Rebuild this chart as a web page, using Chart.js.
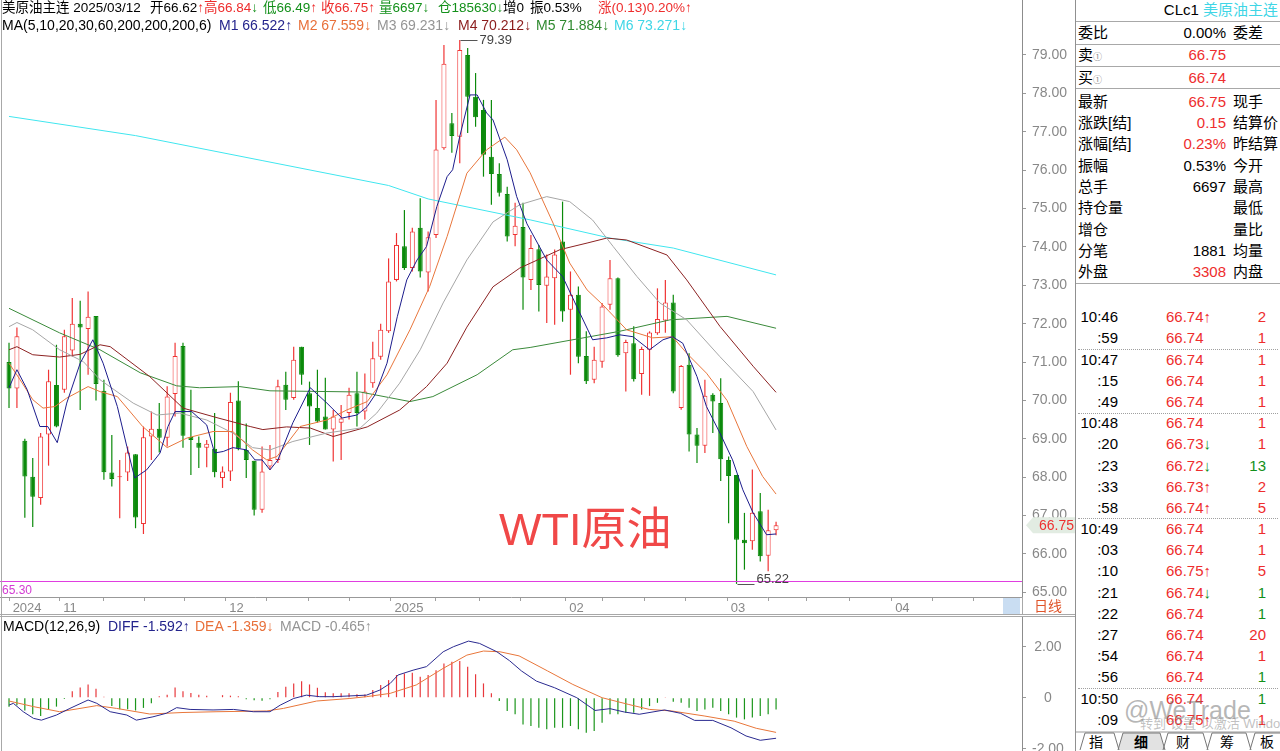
<!DOCTYPE html>
<html>
<head>
<meta charset="utf-8">
<title>美原油主连 日线</title>
<script src="https://cdn.jsdelivr.net/npm/chart.js@4.4.1/dist/chart.umd.min.js"></script>
<style>
  body { margin:0; width:1280px; height:751px; overflow:hidden; background:#fff; position:relative;
         font-family:"Liberation Sans", Arial, "Noto Sans CJK SC", sans-serif; color:#000; }
  .t { position:absolute; white-space:nowrap; line-height:16px; }
  .hd { font-size:14px; }
  .h1 { font-size:13.5px; }
  .r { color:#ee2d2d; } .g { color:#13901a; } .k { color:#000; }
  .c1 { color:#24248c; } .c2 { color:#e8703a; } .c3 { color:#959595; }
  .c4 { color:#8b1c1c; } .c5 { color:#2f8a2f; } .c6 { color:#3fd6e6; }
  .ln { position:absolute; background:#a8a8a8; }
  #mainBox { position:absolute; left:0; top:0; width:1075px; height:615px; }
  #macdBox { position:absolute; left:0; top:617px; width:1075px; height:134px; }
  .pv { font-size:15px; }
  .dot { position:absolute; left:1078px; width:200px; height:0; border-top:1px dotted #a0a0a0; }
</style>
</head>
<body>
<div id="mainBox"><canvas id="kChart"></canvas></div>
<div id="macdBox"><canvas id="macdChart"></canvas></div>

<!-- frame lines -->
<div class="ln" style="left:1px;top:0;width:1px;height:751px;"></div>
<div class="ln" style="left:0;top:614px;width:1075px;height:1px;"></div>
<div class="ln" style="left:0;top:616px;width:1075px;height:1px;"></div>
<div class="ln" style="left:1022px;top:597px;width:1px;height:18px;"></div>
<div class="ln" style="left:1075px;top:0;width:1px;height:751px;background:#909090;"></div>
<div style="position:absolute;left:1003px;top:598px;width:17px;height:16px;background:#c9ddf2;"></div>
<div class="t" style="left:1034px;top:598px;font-size:14px;color:#e0552a;">日线</div>

<!-- header -->
<div class="t h1" style="left:2px;top:0;">美原油主连 2025/03/12</div>
<div class="t h1" style="left:150px;top:0;">开66.62<span class="r">↑</span></div>
<div class="t h1 r" style="left:204px;top:0;">高66.84<span class="g">↓</span></div>
<div class="t h1 g" style="left:263px;top:0;">低66.49<span class="r">↑</span></div>
<div class="t h1 r" style="left:321px;top:0;">收66.75↑</div>
<div class="t h1 g" style="left:379px;top:0;">量6697↓</div>
<div class="t h1 g" style="left:438px;top:0;">仓185630↓</div>
<div class="t h1" style="left:503px;top:0;">增0</div>
<div class="t h1" style="left:530px;top:0;">振0.53%</div>
<div class="t h1 r" style="left:598px;top:0;">涨(0.13)0.20%↑</div>
<div class="t hd" style="left:2px;top:17px;">MA(5,10,20,30,60,200,200,200,6)</div>
<div class="t hd c1" style="left:219px;top:17px;">M1 66.522↑</div>
<div class="t hd c2" style="left:298px;top:17px;">M2 67.559↓</div>
<div class="t hd c3" style="left:377px;top:17px;">M3 69.231↓</div>
<div class="t hd c4" style="left:458px;top:17px;">M4 70.212↓</div>
<div class="t hd c5" style="left:536px;top:17px;">M5 71.884↓</div>
<div class="t hd c6" style="left:614px;top:17px;">M6 73.271↓</div>

<div class="t" style="left:499px;top:507px;font-size:45px;line-height:45px;color:#f04848;">WTI原油</div>

<!-- MACD title -->
<div class="t hd" style="left:3px;top:618px;">MACD(12,26,9)</div>
<div class="t hd c1" style="left:108px;top:618px;">DIFF -1.592↑</div>
<div class="t hd c2" style="left:195px;top:618px;">DEA -1.359↓</div>
<div class="t hd c3" style="left:280px;top:618px;">MACD -0.465↑</div>

<!-- right panel -->
<div class="t pv" style="right:2px;top:2px;">CLc1 <span class="c6">美原油主连</span></div>
<div class="ln" style="left:1076px;top:21px;width:204px;height:1px;"></div>
<div class="ln" style="left:1076px;top:44px;width:204px;height:1px;"></div>
<div class="ln" style="left:1076px;top:66px;width:204px;height:1px;"></div>
<div class="ln" style="left:1076px;top:88px;width:204px;height:1px;"></div>
<div class="ln" style="left:1076px;top:283px;width:204px;height:1px;"></div>
<svg style="position:absolute;left:1076px;top:731px;" width="204" height="20">
  <path d="M42,19 L47,2 L84,2 L89,19 Z" fill="#e2e2e2" stroke="none"/>
  <path d="M0,1 L204,1" stroke="#999" stroke-width="1"/>
  <path d="M4,19 L9,2 L38,2 L43,19 M42,19 L47,2 L84,2 L89,19 M87,19 L92,2 L127,2 L132,19 M131,19 L136,2 L170,2 L175,19 M174,19 L179,2 L204,2" fill="none" stroke="#777" stroke-width="1"/>
</svg>
<div id="panelRows"></div>
<div class="t" style="left:1124px;top:696px;font-size:25px;line-height:28px;color:rgba(110,110,110,0.5);">@WeTrade</div>
<div class="t" style="left:1140px;top:716px;font-size:13px;color:rgba(140,140,140,0.55);">转到“设置”以激活 Windows</div>

<script>
// ---- daily candles, CLc1, 2024-10-24 .. 2025-03-12 ----
const opens  = [71.00,70.31,68.95,68.01,67.46,69.11,70.40,70.28,71.30,72.00,71.86,72.20,70.25,68.12,68.00,68.12,68.60,66.78,69.06,69.26,
                69.03,70.17,71.42,69.05,68.90,68.77,68.74,67.98,68.15,70.00,68.71,68.43,67.15,68.28,68.45,70.41,70.06,71.40,70.19,69.80,
                69.58,69.24,69.42,69.67,70.19,69.71,70.45,71.14,71.80,73.14,74.02,73.45,74.50,73.33,74.31,76.57,77.22,76.87,79.00,77.91,
                77.57,76.35,75.90,75.38,74.31,74.52,73.14,73.94,72.99,73.18,74.14,72.36,72.75,71.16,70.54,71.01,72.49,73.18,71.23,71.49,
                70.69,71.32,71.75,72.08,72.55,69.80,70.93,69.11,68.82,70.15,69.93,68.45,68.06,66.37,66.33,67.11,65.95,66.62];
const highs  = [71.50,71.90,69.00,68.50,69.15,70.80,71.45,71.84,72.67,72.60,72.84,72.20,70.54,69.10,68.45,68.80,68.60,69.32,69.71,69.93,
                70.37,71.50,71.50,70.28,69.06,68.97,69.67,68.28,70.20,70.50,69.40,68.43,68.80,68.84,70.54,70.75,71.40,71.40,70.49,70.80,
                70.59,69.75,69.88,70.33,70.75,70.70,71.53,72.00,73.70,74.36,74.96,74.50,75.27,74.40,77.83,79.26,77.49,79.39,79.18,78.53,
                77.83,77.83,76.18,75.57,75.15,75.15,74.31,74.05,73.80,73.93,75.18,73.36,72.97,71.80,71.40,72.54,73.66,73.20,71.58,71.93,
                71.40,71.80,72.92,73.14,72.75,70.92,71.23,69.28,70.54,70.19,70.58,68.54,68.06,67.07,68.20,67.59,67.15,66.84];
const lows   = [69.80,69.80,66.94,66.70,67.28,68.30,69.30,70.20,71.14,69.75,70.67,70.00,67.93,67.76,66.93,67.90,66.67,66.52,68.45,68.64,
                68.80,69.58,68.77,68.06,68.24,68.26,68.00,67.72,67.90,68.70,67.98,67.00,67.07,68.19,68.37,69.75,70.02,70.41,68.84,69.42,
                69.24,68.41,68.45,69.50,69.32,69.50,70.33,71.06,71.76,73.10,73.40,73.36,73.20,72.84,74.23,76.53,76.45,76.18,76.97,77.13,
                75.83,75.10,75.31,74.14,74.02,72.36,72.88,72.32,72.02,71.97,72.05,70.67,70.97,70.43,70.45,70.85,72.36,71.14,70.23,70.49,
                70.15,70.12,71.71,71.76,70.19,69.76,68.67,68.37,68.63,69.15,67.90,66.80,65.22,65.59,66.11,65.80,65.55,66.49];
const closes = [70.31,71.67,68.02,67.49,69.06,70.50,69.32,71.67,72.00,71.90,72.18,70.43,68.13,67.95,68.02,68.64,66.95,69.04,69.26,69.03,
                70.10,71.16,69.08,68.97,68.77,68.87,68.13,68.15,69.96,68.74,68.45,67.15,68.15,68.45,70.37,70.02,71.06,70.67,69.84,69.45,
                69.24,69.58,69.53,70.15,69.67,70.23,71.10,71.84,73.10,74.05,73.45,74.40,73.36,74.25,76.54,78.77,76.89,79.13,77.91,77.38,
                76.40,75.90,75.41,74.27,74.55,73.20,73.97,73.01,73.23,73.80,72.32,72.75,71.14,70.50,71.06,72.45,73.18,71.18,71.52,70.55,
                71.34,71.77,72.12,72.55,70.23,70.90,69.11,68.82,70.12,69.97,68.47,68.03,66.37,66.28,67.07,65.94,66.62,66.75];

// moving averages: [candle index, value]
const ma5   = [[0,70.33],[1,70.8],[2.3,70.28],[3.9,69.32],[4.9,69.32],[6.1,68.9],[7.3,69.93],[9,70.97],[10.6,71.58],[11.9,70.97],
               [13.7,69.84],[14.9,68.8],[15.9,67.98],[17.4,68.19],[19.1,68.63],[20.1,69.32],[21,69.71],[23.1,69.71],[25,69.36],[26,68.63],
               [27.1,68.67],[28.3,68.77],[30.1,68.71],[31.1,68.45],[32,68.45],[33,68.19],[34,68.45],[35.9,69.42],[38.1,70.33],[40.2,69.93],
               [42.1,69.54],[44,69.62],[45.3,69.84],[46.3,70.15],[47.8,70.97],[49.1,72.18],[50.3,73.14],[51.6,73.66],[52.8,74.01],[54.1,75.05],
               [55.4,75.83],[56.1,76.01],[57,76.88],[58.3,77.96],[59.2,77.96],[60.4,77.49],[61.2,77.31],[63,76.27],[64.2,75.31],[65.5,74.6],
               [68,73.66],[70,73.23],[72.2,72.27],[73.8,71.58],[75.6,71.63],[77.2,71.71],[78.9,71.66],[81,71.32],[82.7,71.58],[83.9,71.66],
               [85.2,71.49],[87,70.62],[88.2,69.84],[89.9,69.15],[91.5,68.45],[92.8,67.67],[94.1,67.07],[95.8,66.5],[97,66.52]];
const ma10  = [[0,70.97],[1.4,70.54],[3,70.02],[4.3,69.8],[5.8,69.84],[7.3,70.06],[10,70.36],[11.5,70.23],[13.7,70.1],[16.9,69.32],
               [20,68.77],[22.5,69.02],[25.8,69.19],[28.3,69.19],[30.8,68.71],[32.6,68.45],[33.9,68.54],[36.8,69.32],[40.2,69.49],[42.7,69.75],
               [45.3,69.97],[47.8,70.67],[50.7,71.84],[53.2,72.97],[55.4,74.27],[57.9,75.92],[60.4,76.53],[62.7,76.86],[64.2,76.53],[65.9,75.93],
               [68.8,74.62],[70.9,73.58],[73.1,72.88],[75.1,72.49],[78.1,71.84],[81.4,71.63],[83.9,71.66],[85.7,71.23],[88.2,70.71],[90.8,70.0],
               [93.3,68.8],[95.3,68.02],[97,67.56]];
const ma20  = [[0,71.92],[1,72.03],[3,71.84],[6.4,71.32],[9.4,71.01],[11.5,70.54],[15.7,69.93],[18.7,69.62],[21.6,69.67],[25,69.49],
               [28.3,69.15],[30.8,68.77],[33,68.71],[35.9,68.93],[40.2,69.15],[44.4,69.28],[46.5,69.67],[49.4,70.45],[52,71.32],[54.9,72.54],
               [57.9,73.66],[61.2,74.65],[64.6,75.1],[68,75.31],[70.9,75.18],[73.8,74.7],[76.4,74.01],[79.4,73.23],[82.3,72.54],[85.7,72.1],
               [89.9,71.14],[94.1,70.23],[97,69.23]];
const ma30  = [[0,71.32],[1,71.4],[3,71.19],[6.4,71.13],[9,71.2],[11.5,71.45],[12.8,71.4],[17.8,70.62],[22,69.8],[26.3,69.55],
               [30.5,69.32],[32.1,69.24],[35.1,69.31],[38.1,69.28],[41,69.06],[45.3,69.31],[49.4,69.75],[52.8,70.36],[55.4,70.97],[57.9,71.91],
               [61.2,72.96],[64.6,73.45],[69.7,73.93],[73.1,74.1],[75.6,74.23],[78.1,74.18],[83.2,73.79],[85.7,73.14],[89.9,71.93],[94.1,70.89],
               [97,70.21]];
const ma60  = [[0,72.4],[6.4,71.76],[11.5,71.32],[16.6,70.72],[21.2,70.38],[24.1,70.33],[29.2,70.36],[33,70.25],[44.4,70.22],[50.7,69.97],
               [53.6,70.1],[59.2,70.67],[63.7,71.32],[65.9,71.38],[77.2,71.8],[83.6,72.1],[90.8,72.19],[97,71.88]];
const ma200 = [[0,77.4],[16,76.9],[32,76.25],[48,75.6],[53,75.25],[66,74.7],[76,74.23],[84,73.97],[97,73.27]];

// MACD panel
const macdHist = [-0.35,-0.3,-0.5,-0.65,-0.72,-0.45,-0.35,-0.05,0.25,0.4,0.52,0.35,0.04,-0.33,-0.45,-0.45,-0.5,-0.4,-0.22,0.06,
                  0.12,0.4,0.25,0.18,0.12,0.08,0.02,0.1,0.08,0.06,-0.06,-0.1,-0.12,-0.06,0.22,0.43,0.56,0.65,0.52,0.39,
                  0.21,0.17,0.17,0.17,0.14,0.13,0.3,0.5,0.69,0.89,0.95,0.98,0.82,0.89,1.08,1.34,1.41,1.44,1.21,0.92,
                  0.56,0.17,-0.13,-0.52,-0.65,-1.05,-1.11,-1.18,-1.24,-1.18,-1.18,-1.11,-1.24,-1.37,-1.31,-0.98,-0.65,-0.65,-0.59,-0.59,
                  -0.46,-0.33,-0.2,0.03,-0.16,-0.2,-0.39,-0.52,-0.46,-0.39,-0.52,-0.65,-0.78,-0.85,-0.78,-0.72,-0.65,-0.46];
const diffLine = [[0,-0.29],[0.55,-0.22],[1.8,-0.55],[3.1,-0.81],[4.1,-0.88],[6,-0.68],[7.7,-0.42],[10,-0.09],[11.1,-0.22],[12.8,-0.55],
                  [14.9,-0.68],[16.1,-0.88],[18.2,-0.75],[19.9,-0.61],[21.2,-0.39],[22.9,-0.46],[25.8,-0.48],[28.4,-0.46],[30.9,-0.55],[33,-0.55],
                  [34.3,-0.29],[36,-0.03],[37.6,0.1],[39.3,0.04],[41,0.04],[45.2,0.1],[46.9,0.3],[48.2,0.56],[49.2,0.89],[51.1,1.08],
                  [52.8,1.22],[54.9,1.8],[56.2,2.0],[58.1,2.22],[59.5,2.13],[61.7,1.8],[63.3,1.45],[64.8,1.05],[66.7,0.65],[69,0.39],
                  [71.8,0],[74.1,-0.5],[76,-0.43],[77.8,-0.56],[79.7,-0.65],[82.9,-0.48],[84.9,-0.61],[86.7,-0.89],[89,-0.89],[91.3,-1.18],
                  [93.2,-1.5],[95,-1.67],[97,-1.59]];
const deaLine  = [[0,-0.13],[3.1,-0.35],[6.4,-0.55],[8.6,-0.44],[11.1,-0.31],[13.6,-0.42],[17.8,-0.64],[22,-0.58],[26.3,-0.55],[32.6,-0.52],
                  [34.7,-0.42],[38.9,-0.13],[43.1,-0.03],[45.2,0.04],[48.2,0.17],[51.5,0.5],[54.9,1.15],[57.9,1.67],[60,1.83],[62.1,1.8],
                  [64.5,1.64],[68.1,1.05],[71.3,0.52],[75,0],[78.3,-0.26],[81,-0.46],[83.8,-0.52],[88,-0.72],[91.7,-0.92],[94.5,-1.2],[97,-1.36]];

// axes
const priceTicks = [65,66,67,68,69,70,71,72,73,74,75,76,77,78,79];
const macdTicks = [-2, 0, 2];
const dateTickPos = [0,6.4,11.9,17.1,22.2,27.4,32.6,37.9,43.1,48.3,53.9,59.5,64.7,70.4,75.1,80.4,85.6,90.8,96,100.8,106.3,111.6,116.8,122];
const monthTickPos = [0, 6.4, 27.4, 48.3, 70.4, 90.8, 111.6];
const monthTickText = ['2024', '11', '12', '2025', '02', '03', '04'];
const supportLevel = 65.30;

// right panel text
const quoteRows = [
  ['委比','0.00%','委差','k'], ['卖','66.75','','r'], ['买','66.74','','r'],
  ['最新','66.75','现手','r'], ['涨跌[结]','0.15','结算价','r'], ['涨幅[结]','0.23%','昨结算','r'],
  ['振幅','0.53%','今开','k'], ['总手','6697','最高','k'], ['持仓量','','最低','k'],
  ['增仓','','量比','k'], ['分笔','1881','均量','k'], ['外盘','3308','内盘','r']
];
const tradeTimes  = ['10:46',':59','10:47',':15',':49','10:48',':20',':23',':33',':58','10:49',':03',':10',':21',':22',':27',':54',':56','10:50',':09'];
const tradePrices = ['66.74','66.74','66.74','66.74','66.74','66.74','66.73','66.72','66.73','66.74','66.74','66.74','66.75','66.74','66.74','66.74','66.74','66.74','66.74','66.75'];
const tradeArrows = ['↑','','','','','','↓','↓','↑','↑','','','↑','↓','','','','','','↑'];
const tradeVols   = [2,1,1,1,1,1,1,13,2,5,1,1,5,1,1,20,1,1,1,1];
const tradeVolUp  = [1,1,1,1,1,1,1,0,1,1,1,1,1,0,0,1,1,0,0,1];
const tradeBreaks = [1, 4, 9, 17];
const tabNames = ['指','细','财','筹','板'];

const RED = '#f03434', GREEN = '#0b8a0b';
const X_MIN = -1.14, X_MAX = 128.1;

Chart.defaults.font.family = '"Liberation Sans", Arial, sans-serif';
Chart.defaults.color = '#888';

const up = opens.map((o, i) => closes[i] >= o);
const pts = arr => arr.map(p => ({ x: p[0], y: p[1] }));
const maLine = (arr, color) => ({
  type: 'line', data: pts(arr), borderColor: color, borderWidth: 1,
  pointRadius: 0, tension: 0, order: 1
});

const markPlugin = {
  id: 'marks',
  afterDatasetsDraw(chart) {
    const { ctx, chartArea: a, scales: { x, y } } = chart;
    ctx.save();
    ctx.lineWidth = 1;
    const ly = Math.round(y.getPixelForValue(supportLevel)) + 0.5;
    ctx.strokeStyle = '#e03ee0';
    ctx.beginPath(); ctx.moveTo(a.left, ly); ctx.lineTo(a.right, ly); ctx.stroke();
    ctx.fillStyle = '#d23ad2';
    ctx.font = '12px "Liberation Sans"';
    ctx.textAlign = 'left'; ctx.textBaseline = 'top';
    ctx.fillText(supportLevel.toFixed(2), 2, ly + 3);

    const hi = Math.max(...highs), hiI = highs.indexOf(hi);
    const lo = Math.min(...lows), loI = lows.indexOf(lo);
    ctx.strokeStyle = '#555'; ctx.fillStyle = '#444';
    ctx.font = '13px "Liberation Sans"';
    let px = Math.round(x.getPixelForValue(hiI)) + 0.5;
    let py = Math.round(y.getPixelForValue(hi)) + 0.5;
    ctx.beginPath(); ctx.moveTo(px, py); ctx.lineTo(px + 17, py); ctx.stroke();
    ctx.textBaseline = 'middle'; ctx.fillText(hi.toFixed(2), px + 19, py);
    px = Math.round(x.getPixelForValue(loI)) + 0.5;
    py = Math.round(y.getPixelForValue(lo)) + 0.5;
    ctx.beginPath(); ctx.moveTo(px, py); ctx.lineTo(px + 17, py); ctx.stroke();
    ctx.textBaseline = 'bottom'; ctx.fillText(lo.toFixed(2), px + 19, py + 1);
    ctx.restore();
  },
  afterDraw(chart) {
    const { ctx, chartArea: a, scales: { y } } = chart;
    const last = closes[closes.length - 1];
    const py = y.getPixelForValue(last);
    ctx.save();
    ctx.fillStyle = '#e2ece2';
    ctx.beginPath();
    ctx.moveTo(a.right + 4, py); ctx.lineTo(a.right + 11, py - 8); ctx.lineTo(chart.width, py - 8);
    ctx.lineTo(chart.width, py + 8); ctx.lineTo(a.right + 11, py + 8); ctx.closePath(); ctx.fill();
    ctx.fillStyle = '#ee3030';
    ctx.font = '14px "Liberation Sans"';
    ctx.textAlign = 'right'; ctx.textBaseline = 'middle';
    ctx.fillText(last.toFixed(2), chart.width - 1, py + 1);
    ctx.restore();
  }
};

const yAxisBase = {
  position: 'right', beginAtZero: false,
  grid: { drawOnChartArea: false, drawTicks: true, tickLength: 4, color: '#999' },
  border: { display: true, color: '#8c8c8c' },
  ticks: { font: { size: 14 }, color: '#888', padding: 6, crossAlign: 'center' },
  afterFit(s) { s.width = 53; s.paddingTop = 0; s.paddingBottom = 0; }
};

new Chart(document.getElementById('kChart'), {
  type: 'bar',
  data: {
    datasets: [
      {
        label: 'wick', order: 3, grouped: false, inflateAmount: 0, borderWidth: 0,
        data: highs.map((h, i) => ({ x: i, y: [lows[i], h] })),
        backgroundColor: up.map(u => u ? RED : GREEN),
        barThickness: 1.2
      },
      {
        label: 'body', order: 2, grouped: false, inflateAmount: 0,
        data: opens.map((o, i) => ({ x: i, y: [o, closes[i]] })),
        backgroundColor: up.map(u => u ? '#ffffff' : GREEN),
        borderColor: up.map(u => u ? RED : GREEN),
        borderWidth: 1, borderSkipped: false, barThickness: 5, minBarLength: 1
      },
      maLine(ma5, '#1c1c8c'),
      maLine(ma10, '#e8763c'),
      maLine(ma20, '#a6a6a6'),
      maLine(ma30, '#8c2222'),
      maLine(ma60, '#3a8a3a'),
      maLine(ma200, '#40e6ef')
    ]
  },
  options: {
    animation: false, responsive: true, maintainAspectRatio: false,
    layout: { padding: 0 },
    plugins: { legend: { display: false }, tooltip: { enabled: false } },
    scales: {
      x: {
        type: 'linear', min: X_MIN, max: X_MAX, offset: false,
        grid: { offset: false, drawOnChartArea: false, tickLength: 4, color: '#a0a0a0' },
        border: { display: true, color: '#999' },
        ticks: {
          autoSkip: false, maxRotation: 0, align: 'start', padding: 0,
          font: { size: 13 }, color: '#888',
          callback: v => { const k = monthTickPos.indexOf(v); return k >= 0 ? ' ' + monthTickText[k] : ''; }
        },
        afterBuildTicks(s) { s.ticks = dateTickPos.map(v => ({ value: v })); },
        afterFit(s) { s.height = 18; s.paddingLeft = 0; s.paddingRight = 0; }
      },
      y: Object.assign({}, yAxisBase, {
        min: 64.878, max: 80.433,
        ticks: Object.assign({}, yAxisBase.ticks, { callback: v => v.toFixed(2) }),
        afterBuildTicks(s) { s.ticks = priceTicks.map(v => ({ value: v })); }
      })
    }
  },
  plugins: [markPlugin]
});

new Chart(document.getElementById('macdChart'), {
  type: 'bar',
  data: {
    datasets: [
      {
        label: 'MACD', order: 2, grouped: false, inflateAmount: 0, borderWidth: 0,
        data: macdHist.map((v, i) => ({ x: i, y: v })),
        backgroundColor: macdHist.map(v => v >= 0 ? '#e8383c' : '#1c961c'),
        barThickness: 1.2
      },
      { type: 'line', label: 'DIFF', data: pts(diffLine), borderColor: '#2a2a90', borderWidth: 1, pointRadius: 0, order: 1 },
      { type: 'line', label: 'DEA', data: pts(deaLine), borderColor: '#e8763a', borderWidth: 1, pointRadius: 0, order: 1 }
    ]
  },
  options: {
    animation: false, responsive: true, maintainAspectRatio: false,
    layout: { padding: 0 },
    plugins: { legend: { display: false }, tooltip: { enabled: false } },
    scales: {
      x: { type: 'linear', min: X_MIN, max: X_MAX, offset: false, display: false },
      y: Object.assign({}, yAxisBase, {
        min: -2.09, max: 3.165,
        ticks: Object.assign({}, yAxisBase.ticks, { callback: v => v === 0 ? '0' : v.toFixed(2) }),
        afterBuildTicks(s) { s.ticks = macdTicks.map(v => ({ value: v })); }
      })
    }
  }
});

// right-hand quote panel
const box = document.getElementById('panelRows');
const add = (html, style) => { const d = document.createElement('div'); d.className = 't pv'; d.style.cssText = style; d.innerHTML = html; box.appendChild(d); };
quoteRows.forEach((r, k) => {
  const yc = k === 0 ? 33 : k === 1 ? 55 : k === 2 ? 78 : 101.7 + 21.3 * (k - 3);
  const top = (yc - 8) + 'px';
  const lab = (k === 1 || k === 2) ? r[0] + '<span style="font-size:9px;color:#888;">①</span>' : r[0];
  add(lab, 'left:1078px;top:' + top);
  if (r[1]) add('<span class="' + r[3] + '">' + r[1] + '</span>', 'right:54px;top:' + top);
  if (r[2]) add(r[2], 'left:1233px;top:' + top);
});
tradeTimes.forEach((t, k) => {
  const top = (317.3 + 21.18 * k - 8) + 'px';
  add(t, 'right:162px;top:' + top);
  const arr = tradeArrows[k] ? '<span class="' + (tradeArrows[k] === '↑' ? 'r' : 'g') + '">' + tradeArrows[k] + '</span>' : '';
  add('<span class="r">' + tradePrices[k] + '</span>' + arr, 'left:1166px;top:' + top);
  add('<span class="' + (tradeVolUp[k] ? 'r' : 'g') + '">' + tradeVols[k] + '</span>', 'right:14px;top:' + top);
});
tradeBreaks.forEach(k => {
  const d = document.createElement('div'); d.className = 'dot';
  d.style.top = Math.round(317.3 + 21.18 * k + 10.5) + 'px'; box.appendChild(d);
});
tabNames.forEach((s, k) => {
  const cx = [1096, 1141, 1183, 1227, 1267][k];
  add(s, 'left:' + (cx - 7) + 'px;top:734px;font-size:14px;' + (k === 1 ? 'font-weight:bold;' : ''));
});
</script>
</body>
</html>
